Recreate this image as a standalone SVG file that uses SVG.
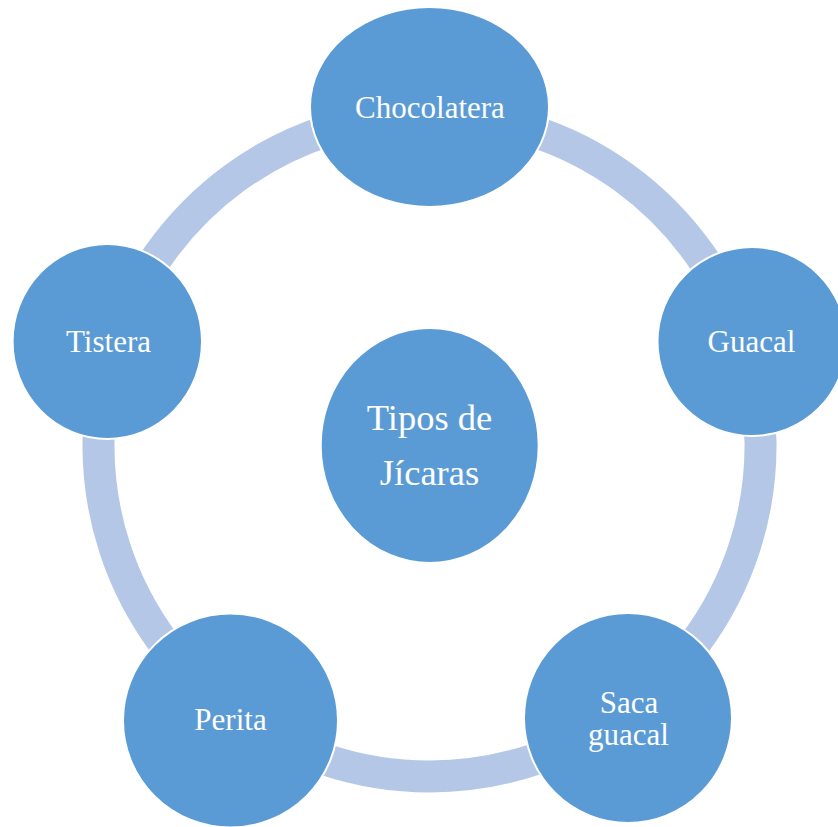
<svg xmlns="http://www.w3.org/2000/svg" width="838" height="827" viewBox="0 0 838 827">
<style>
.ring{fill:none;stroke:#B4C7E7;stroke-width:32}
.node{fill:#5B9BD5;stroke:#FFFFFF;stroke-width:2}
.lbl{font-family:"Liberation Serif","Times New Roman",serif;font-size:31px;fill:#FFFFFF;text-anchor:middle}
.big{font-size:36.5px}
</style>
<rect width="838" height="827" fill="#FFFFFF"/>
<g id="connectors">
<path class="ring" d="M429.5,114.5 A331,331 0 0 1 744.5,343.7"/>
<path class="ring" d="M744.5,343.7 A331,331 0 0 1 624.5,713"/>
<path class="ring" d="M624.5,713 A331,331 0 0 1 235.4,713.6"/>
<path class="ring" d="M235.4,713.6 A331,331 0 0 1 114.5,343.7"/>
<path class="ring" d="M114.5,343.7 A331,331 0 0 1 429.5,114.5"/>
</g>
<g id="center">
<ellipse class="node" cx="429.7" cy="445.5" rx="109" ry="117.5"/>
<text class="lbl big" x="429.5" y="430">Tipos de</text>
<text class="lbl big" x="429.5" y="485">Jícaras</text>
</g>
<g id="chocolatera">
<ellipse class="node" cx="429.5" cy="107" rx="119.5" ry="100"/>
<text class="lbl" x="430" y="118.3">Chocolatera</text>
</g>
<g id="guacal">
<ellipse class="node" cx="752" cy="341.5" rx="94.5" ry="94.5"/>
<text class="lbl" x="751.5" y="351.7">Guacal</text>
</g>
<g id="saca-guacal">
<ellipse class="node" cx="628" cy="718" rx="104" ry="105"/>
<text class="lbl" x="629" y="713.3">Saca</text>
<text class="lbl" x="628.5" y="745">guacal</text>
</g>
<g id="perita">
<ellipse class="node" cx="230.5" cy="720.5" rx="107.5" ry="107"/>
<text class="lbl" x="230.5" y="730">Perita</text>
</g>
<g id="tistera">
<ellipse class="node" cx="107.3" cy="341.5" rx="94.7" ry="97.5"/>
<text class="lbl" x="108.5" y="351.7">Tistera</text>
</g>
</svg>
